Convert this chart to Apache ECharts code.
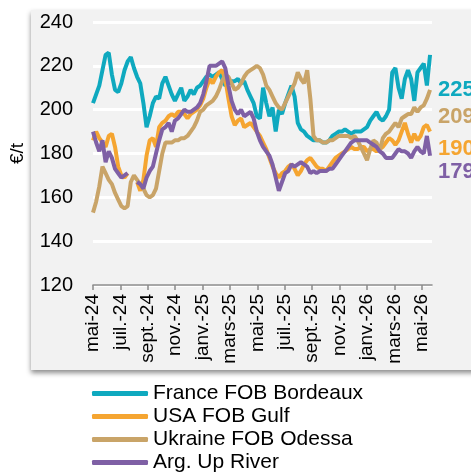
<!DOCTYPE html>
<html>
<head>
<meta charset="utf-8">
<script src="https://cdn.jsdelivr.net/npm/echarts@6/dist/echarts.min.js"></script>
<style>
  html, body { margin: 0; padding: 0; background: #fff; }
  #chart { width: 471px; height: 473px; }
</style>
</head>
<body>
<div id="chart"></div>
<script>
// weekly prices in €/t, first week = start of May 2024
const france = [
  203, 207, 211, 218, 225, 226, 216, 209, 208, 212,
  218, 222, 224, 219, 215, 212, 203, 192, 197, 203,
  206, 205, 212, 215, 211, 207, 204, 207, 210, 204,
  206, 209, 207, 210, 211, 213, 215, 216, 215, 216,
  217, 214, 211, 212, 213, 213, 214, 212, 213, 209,
  206, 203, 197, 196, 210, 203, 197, 201, 190, 200,
  198, 203, 207, 211, 206, 194, 191, 190, 188, 187,
  186, 186, 186, 185, 185, 186, 188, 189, 190, 190,
  191, 190, 189, 190, 190, 190, 191, 192, 195, 197,
  199, 196, 195, 197, 200, 217, 219, 210, 205, 214,
  218, 214, 204, 217, 219, 221, 211, 225
];
const usa = [
  186, 190, 187, 185, 183, 188, 189, 183, 174, 170,
  169, 171, null, null, 167, 163, 168, 179, 186, 187,
  183, 192, 194, 195, 197, 198, 197, 199, 199, 198,
  196, 198, 199, 200, 202, 205, 210, 214, 212, 215,
  217, 218, 214, 205, 197, 193, 195, 196, 192, 193,
  194, 192, 190, 188, 185, 182, 178, 174, 171, 169,
  171, 172, 174, 175, 173, 170, 172, 175, 177, 178,
  176, 174, 173, 173, 172, 174, 176, 178, 179, 180,
  181, 182, 183, 182, 182, 183, 183, 181, 182, 182,
  181, 182, 183, 185, 187, 186, 184, 186, 190, 194,
  189, 185, 189, 186, 188, 192, 193, 190
];
const ukraine = [
  153, 158, 165, 174, 171, 168, 166, 162, 159, 156,
  155, 156, 167, 170, 168, 166, 164, 161, 160, 161,
  164, 172, 180, 185, 185, 185, 186, 186, 187, 187,
  188, 190, 192, 195, 199, 200, 202, 203, 204, 206,
  209, 213, 216, 215, 212, 209, 210, 212, 215, 217,
  218, 219, 220, 219, 216, 211, 209, 206, 203, 201,
  200, 203, 206, 209, 212, 217, 214, 212, 218, 205,
  188, 186, 186, 185, 185, 186, 186, 187, 188, 188,
  188, 188, 187, 188, 186, 183, 180, 177, 182, 186,
  185, 181, 187, 189, 190, 192, 194, 192, 196, 197,
  198, 198, 201, 199, 201, 202, 205, 209
];
const argentina = [
  190, 185, 181, 186, 176, 181, 178, 173, 171, 169,
  170, 171, null, null, 167, 166, 164, 169, 172, 174,
  180, 186, 191, 192, 194, 190, 195, 196, 198, 200,
  199, 199, 200, 201, 203, 207, 213, 220, 220, 220,
  221, 222, 219, 211, 204, 200, 198, 200, 197, 198,
  199, 196, 190, 186, 183, 181, 179, 175, 169, 163,
  167, 171, 172, 175, 174, 175, 176, 175, 174, 171,
  172, 171, 172, 172, 172, 173, 173, 175, 177, 179,
  181, 183, 185, 186, 186, 186, 186, 186, 185, 184,
  183, 181, 180, 178, 178, 178, 180, 182, 181, 181,
  180, 178, 181, 183, 181, 180, 188, 179
];

const seriesNames = ['France FOB Bordeaux', 'USA FOB Gulf', 'Ukraine FOB Odessa', 'Arg. Up River'];
const seriesColors = ['#0FA9BF', '#F5A531', '#C9A468', '#7F60A5'];
// month offsets of the ticks (0 = mai-24) and their labels
const tickMonths = [0, 2, 4, 6, 8, 10, 12, 14, 16, 18, 20, 22, 24];
const tickLabels = ['mai-24', 'juil.-24', 'sept.-24', 'nov.-24', 'janv.-25', 'mars-25',
  'mai-25', 'juil.-25', 'sept.-25', 'nov.-25', 'janv.-26', 'mars-26', 'mai-26'];
// vertical shift of the end value labels
const labelShift = [35, 17, 27, 16];

const font = 'Liberation Sans, Arial, sans-serif';

function toPoints(values) {
  // week index -> months since start
  return values.map((v, i) => [i * 7 / 30.4375, v == null ? '-' : v]);
}

const chart = echarts.init(document.getElementById('chart'));

const allValues = [france, usa, ukraine, argentina];
const series = allValues.map((values, k) => ({
  name: seriesNames[k],
  type: 'line',
  data: toPoints(values),
  showSymbol: false,
  lineStyle: { width: 4, color: seriesColors[k] },
  itemStyle: { color: seriesColors[k] },
  z: k === 3 ? 5 : 2 + k,
  endLabel: {
    show: true,
    formatter: p => p.value[1],
    color: seriesColors[k],
    fontFamily: font,
    fontWeight: 'bold',
    fontSize: 22,
    offset: [0, labelShift[k]]
  }
}));

chart.setOption({
  animation: false,
  textStyle: { fontFamily: font },
  graphic: [{
    type: 'rect',
    z: -10,
    silent: true,
    shape: { x: 31, y: 10, width: 470, height: 360 },
    style: { fill: '#f2f2f2', shadowBlur: 5, shadowColor: 'rgba(0,0,0,0.45)', shadowOffsetY: 3 }
  }],
  grid: { left: 93, right: 39, top: 22, bottom: 188 },
  legend: {
    orient: 'vertical',
    left: 92,
    top: 383,
    height: 120,
    padding: 0,
    icon: 'roundRect',
    itemWidth: 56,
    itemHeight: 5,
    itemGap: 2,
    textStyle: { fontSize: 21, color: '#000', fontFamily: font },
    data: seriesNames
  },
  xAxis: {
    type: 'value',
    min: 0,
    max: 24.75,
    interval: 2,
    splitLine: { show: false },
    axisLine: { lineStyle: { color: '#8a8a8a', width: 1.5 } },
    axisTick: { show: true, customValues: tickMonths, length: 5, lineStyle: { color: '#8a8a8a', width: 1.5 } },
    axisLabel: {
      customValues: tickMonths,
      rotate: 90,
      margin: 9,
      fontSize: 19,
      color: '#000',
      formatter: v => tickLabels[Math.round(v / 2)]
    }
  },
  yAxis: {
    type: 'value',
    min: 120,
    max: 240,
    interval: 20,
    name: '€/t',
    nameLocation: 'middle',
    nameRotate: 90,
    nameGap: 66,
    nameTextStyle: { fontSize: 19, color: '#000' },
    axisLine: { show: false },
    axisTick: { show: false },
    axisLabel: { fontSize: 20, color: '#000', margin: 20 },
    splitLine: { lineStyle: { color: '#ffffff', width: 3 } }
  },
  series: series
});
</script>
</body>
</html>
